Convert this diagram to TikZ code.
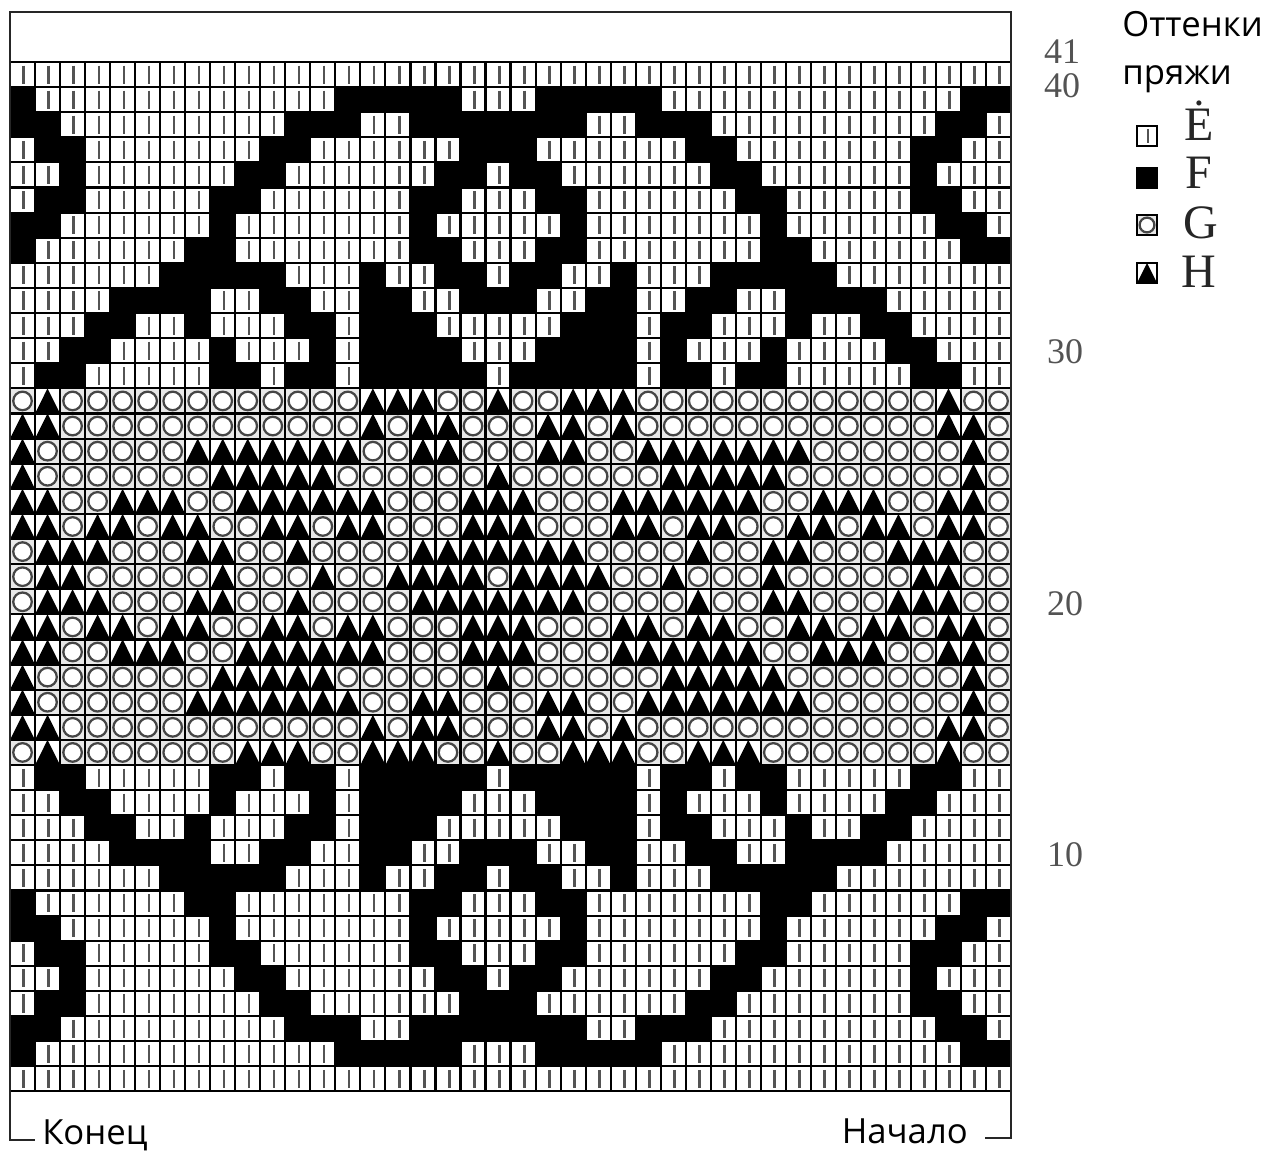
\documentclass[tikz,border=0pt]{standalone}
\usepackage{fontspec}
\setmainfont{Liberation Serif}
\newfontfamily\notefont{Open Sans}

\tikzset{
  gridline/.style={line width=1.6pt, black},
  frameline/.style={line width=1.8pt, black!85},
  stripe/.style={line width=2pt, gray!65!black},
  ring/.style={line width=1.7pt, draw=gray!55!black, fill=white},
  rownum/.style={font=\fontsize{27}{27}\selectfont, text=gray!65!black, inner sep=0pt},
  keyletter/.style={font=\fontsize{36}{36}\selectfont, text=black!85, anchor=base west, inner sep=0pt},
  note/.style={font=\notefont\fontsize{26}{26}\selectfont, inner sep=0pt},
}

% one chart cell: #1 column, #2 row counted from the top
\newcommand{\yarne}[2]{%
  \fill[white] (#1-1,#2-1) rectangle (#1,#2);
  \draw[stripe] (#1-0.45,#2-0.86) -- (#1-0.45,#2-0.14);}
\newcommand{\yarnf}[2]{%
  \fill[black] (#1-1,#2-1) rectangle (#1,#2);}
\newcommand{\yarng}[2]{%
  \fill[gray!18] (#1-1,#2-1) rectangle (#1,#2);
  \draw[ring] (#1-0.5,#2-0.5) circle (0.37);}
\newcommand{\yarnh}[2]{%
  \fill[white] (#1-1,#2-1) rectangle (#1,#2);
  \fill[black] (#1-1,#2) -- (#1-0.5,#2-1) -- (#1,#2) -- cycle;}

\begin{document}
\begin{tikzpicture}[x=0.75pt,y=-0.75pt]
\useasboundingbox (0,0) rectangle (1280,1153);

\coordinate (bandNW) at (10,12);
\coordinate (bandNE) at (1011,12);
\coordinate (gridNW) at (10,62);
\coordinate (gridSW) at (10,1091);
\coordinate (gridSE) at (1011,1091);
\coordinate (endtick) at (35,1140);
\coordinate (starttick) at (985,1138);

% chart: left half of each row (columns 1-20, mirrored onto 20-39), then column 40
\begin{scope}[shift={(gridNW)}, x=18.77pt, y=-18.83pt]
\foreach \k/\cols/\ed in {
  1/{e,e,e,e,e,e,e,e,e,e,e,e,e,e,e,e,e,e,e,e}/e,
  2/{f,e,e,e,e,e,e,e,e,e,e,e,e,f,f,f,f,f,e,e}/f,
  3/{f,f,e,e,e,e,e,e,e,e,e,f,f,f,e,e,f,f,f,f}/e,
  4/{e,f,f,e,e,e,e,e,e,e,f,f,e,e,e,e,e,e,f,f}/e,
  5/{e,e,f,e,e,e,e,e,e,f,f,e,e,e,e,e,e,f,f,e}/e,
  6/{e,f,f,e,e,e,e,e,f,f,e,e,e,e,e,e,f,f,e,e}/e,
  7/{f,f,e,e,e,e,e,e,f,e,e,e,e,e,e,e,f,e,e,e}/e,
  8/{f,e,e,e,e,e,e,f,f,e,e,e,e,e,e,e,f,f,e,e}/f,
  9/{e,e,e,e,e,e,f,f,f,f,f,e,e,e,f,e,e,f,f,e}/e,
  10/{e,e,e,e,f,f,f,f,e,e,f,f,e,e,f,f,e,e,f,f}/e,
  11/{e,e,e,f,f,e,e,f,e,e,e,f,f,e,f,f,f,e,e,e}/e,
  12/{e,e,f,f,e,e,e,e,f,e,e,e,f,e,f,f,f,f,e,e}/e,
  13/{e,f,f,e,e,e,e,e,f,f,e,f,f,e,f,f,f,f,f,e}/e,
  14/{g,h,g,g,g,g,g,g,g,g,g,g,g,g,h,h,h,g,g,h}/g,
  15/{h,h,g,g,g,g,g,g,g,g,g,g,g,g,h,g,h,h,g,g}/g,
  16/{h,g,g,g,g,g,g,h,h,h,h,h,h,h,g,g,h,h,g,g}/g,
  17/{h,g,g,g,g,g,g,g,h,h,h,h,h,g,g,g,g,g,g,h}/g,
  18/{h,h,g,g,h,h,h,g,g,h,h,h,h,h,h,g,g,g,h,h}/g,
  19/{h,h,g,h,h,g,h,h,g,g,h,h,g,h,h,g,g,g,h,h}/g,
  20/{g,h,h,h,g,g,g,h,h,g,g,h,g,g,g,g,h,h,h,h}/g,
  21/{g,h,h,g,g,g,g,g,h,g,g,g,h,g,g,h,h,h,h,g}/g,
  22/{g,h,h,h,g,g,g,h,h,g,g,h,g,g,g,g,h,h,h,h}/g,
  23/{h,h,g,h,h,g,h,h,g,g,h,h,g,h,h,g,g,g,h,h}/g,
  24/{h,h,g,g,h,h,h,g,g,h,h,h,h,h,h,g,g,g,h,h}/g,
  25/{h,g,g,g,g,g,g,g,h,h,h,h,h,g,g,g,g,g,g,h}/g,
  26/{h,g,g,g,g,g,g,h,h,h,h,h,h,h,g,g,h,h,g,g}/g,
  27/{h,h,g,g,g,g,g,g,g,g,g,g,g,g,h,g,h,h,g,g}/g,
  28/{g,h,g,g,g,g,g,g,g,h,h,h,g,g,h,h,h,g,g,h}/g,
  29/{e,f,f,e,e,e,e,e,f,f,e,f,f,e,f,f,f,f,f,e}/e,
  30/{e,e,f,f,e,e,e,e,f,e,e,e,f,e,f,f,f,f,e,e}/e,
  31/{e,e,e,f,f,e,e,f,e,e,e,f,f,e,f,f,f,e,e,e}/e,
  32/{e,e,e,e,f,f,f,f,e,e,f,f,e,e,f,f,e,e,f,f}/e,
  33/{e,e,e,e,e,e,f,f,f,f,f,e,e,e,f,e,e,f,f,e}/e,
  34/{f,e,e,e,e,e,e,f,f,e,e,e,e,e,e,e,f,f,e,e}/f,
  35/{f,f,e,e,e,e,e,e,f,e,e,e,e,e,e,e,f,e,e,e}/e,
  36/{e,f,f,e,e,e,e,e,f,f,e,e,e,e,e,e,f,f,e,e}/e,
  37/{e,e,f,e,e,e,e,e,e,f,f,e,e,e,e,e,e,f,f,e}/e,
  38/{e,f,f,e,e,e,e,e,e,e,f,f,e,e,e,e,e,e,f,f}/e,
  39/{f,f,e,e,e,e,e,e,e,e,e,f,f,f,e,e,f,f,f,f}/e,
  40/{f,e,e,e,e,e,e,e,e,e,e,e,e,f,f,f,f,f,e,e}/f,
  41/{e,e,e,e,e,e,e,e,e,e,e,e,e,e,e,e,e,e,e,e}/e}{
  \foreach \t [count=\c] in \cols {
    \csname yarn\t\endcsname{\c}{\k}
    \csname yarn\t\endcsname{40-\c}{\k}
  }
  \csname yarn\ed\endcsname{40}{\k}
}
\foreach \i in {0,...,40} \draw[gridline] (\i,0) -- (\i,41);
\foreach \j in {0,...,41} \draw[gridline] (0,\j) -- (40,\j);
\end{scope}

% frame, top band and the two corner marks
\draw[frameline] (gridSW) -- (bandNW) -- (bandNE) -- (gridSE);
\draw[frameline] (gridSW) |- (endtick);
\draw[frameline] (gridSE) |- (starttick);

% row numbers
\node[rownum] (n41) at (1062,52) {41};
\node[rownum] (n40) at (1062,86) {40};
\node[rownum] (n30) at (1065,352) {30};
\node[rownum] (n20) at (1065,604) {20};
\node[rownum] (n10) at (1065,855) {10};

% key
\node[note, anchor=base west] (titleA) at (1122,36) {Оттенки};
\node[note, anchor=base west] (titleB) at (1122,84) {пряжи};
\coordinate (keyepos) at (1137,126);
\coordinate (keyfpos) at (1137,168);
\coordinate (keygpos) at (1137,215);
\coordinate (keyhpos) at (1137,263);
\foreach \t in {e,f,g,h} {
  \begin{scope}[shift={(key\t pos)}, x=15pt, y=-15pt]
    \csname yarn\t\endcsname{1}{1}
    \draw[gridline] (0,0) rectangle (1,1);
  \end{scope}
}
\node[keyletter] (keyE) at (1184,140) {Ė};
\node[keyletter] (keyF) at (1185,188) {F};
\node[keyletter] (keyG) at (1183,238) {G};
\node[keyletter] (keyH) at (1181,287) {H};

\node[note, anchor=base west] (endlbl) at (42,1144) {Конец};
\node[note, anchor=base east] (startlbl) at (968,1143) {Начало};
\end{tikzpicture}
\end{document}
